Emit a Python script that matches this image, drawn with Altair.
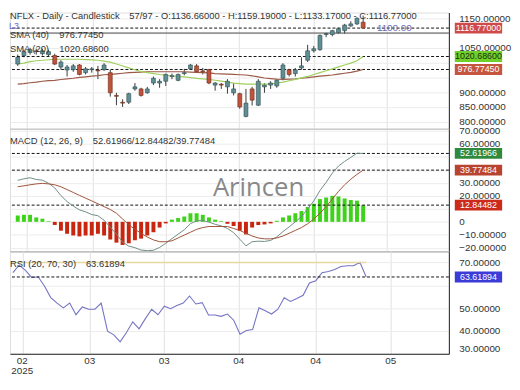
import altair as alt
import pandas as pd

# ---------------- data ----------------
opens = [995, 1024, 1034, 1040, 1030, 1027, 1024, 985, 975, 976,
         992, 966, 976, 975, 976, 966, 889, 866, 866, 911,
         911, 898, 931, 931, 937, 953, 940, 963, 979, 989,
         972, 976, 924, 927, 918, 898, 895, 818, 911, 856,
         918, 924, 921, 947, 976, 963, 982, 1008, 1040, 1044,
         1095, 1095, 1101, 1108, 1124, 1131, 1136.66]
highs = [1027, 1044, 1050, 1047, 1047, 1044, 1030, 1008, 992, 995,
         995, 985, 985, 989, 998, 976, 898, 876, 898, 931,
         915, 918, 953, 944, 963, 963, 963, 979, 995, 995,
         982, 979, 934, 931, 944, 931, 898, 911, 918, 944,
         931, 937, 944, 998, 979, 982, 1018, 1060, 1056, 1095,
         1101, 1111, 1118, 1131, 1140, 1153, 1159.19]
lows = [989, 1018, 1027, 1027, 1024, 1020, 992, 976, 953, 969,
        957, 960, 966, 944, 972, 885, 856, 850, 860, 905,
        885, 895, 924, 915, 921, 944, 937, 957, 976, 966,
        960, 927, 905, 911, 895, 889, 844, 815, 855, 853,
        898, 911, 915, 940, 953, 953, 976, 1002, 1034, 1040,
        1086, 1089, 1098, 1098, 1121, 1127, 1133.17]
closes = [1018, 1037, 1044, 1037, 1040, 1037, 995, 1002, 985, 989,
          960, 979, 979, 972, 992, 898, 886, 863, 895, 918,
          889, 911, 947, 937, 960, 956, 960, 966, 992, 969,
          969, 931, 931, 924, 937, 911, 850, 863, 873, 937,
          924, 931, 940, 992, 960, 976, 989, 1040, 1047, 1092,
          1098, 1108, 1115, 1127, 1131, 1150, 1116.77]
sma20 = [995.2, 998.4, 1003.2, 1006.4, 1008.1, 1009.7, 1011.3, 1011.3, 1011.3, 1011.3,
         1011.3, 1010.3, 1009.3, 1008.1, 1004.8, 1001.6, 995.2, 988.7, 982.3, 975.8,
         969.3, 966.1, 962.9, 959.7, 957.1, 954.8, 953.2, 951.6, 949.3, 946.8,
         945.1, 943.5, 940.3, 937.1, 933.9, 930.6, 929.0, 927.4, 927.4, 927.4,
         927.4, 927.4, 930.6, 933.9, 938.7, 943.5, 948.4, 953.2, 959.7, 966.1,
         972.6, 979.0, 985.5, 991.9, 998.4, 1006.4, 1020.686]
sma40 = [927, 929, 932, 934, 937, 939, 940, 943, 945, 947,
         950, 952, 954, 956, 959, 960, 962, 964, 966, 967,
         968, 969, 969, 969, 969, 969, 969, 969, 968, 967,
         966, 965, 963, 962, 961, 960, 959, 958, 955, 952,
         948, 946, 944, 943, 944, 945, 947, 949, 952, 954,
         956, 958, 961, 964, 967, 971, 976.7745]
macd_line = [31.9, 33.1, 33.9, 32.6, 32.0, 29.7, 26.1, 20.2, 15.6, 12.1,
             9.2, 7.7, 5.6, 4.7, 1.2, -4.1, -9.4, -15.6, -18.7, -19.9,
             -21.7, -22.2, -21.9, -19.7, -16.5, -12.9, -9.5, -6.1, -1.4, 0.8,
             1.0, -0.2, -1.9, -3.1, -5.1, -8.3, -13.4, -18.5, -15.3, -14.9,
             -15.1, -14.3, -11.6, -7.5, -3.9, 0.0, 3.9, 9.9, 16.1, 24.1,
             30.4, 37.5, 42.9, 46.5, 49.6, 52.8, 52.61966]
macd_signal = [27.0, 27.7, 28.5, 29.2, 29.6, 29.2, 28.5, 27.0, 24.8, 22.6,
               20.4, 18.2, 16.1, 13.9, 11.7, 9.5, 6.6, 2.2, -2.2, -5.8,
               -8.8, -11.7, -13.9, -15.3, -15.3, -14.6, -12.4, -10.2, -8.0, -5.8,
               -4.4, -3.6, -3.6, -3.6, -3.6, -5.1, -6.6, -8.8, -10.9, -12.4,
               -13.1, -13.1, -12.4, -10.9, -8.8, -6.6, -4.4, -1.5, 2.2, 6.6,
               11.7, 17.5, 23.4, 28.5, 32.8, 36.5, 39.77484]
macd_hist = [4.9, 5.4, 5.4, 3.4, 2.4, 0.5, -2.4, -6.8, -9.2, -10.5,
             -11.2, -10.5, -10.5, -9.2, -10.5, -13.6, -16.0, -17.8, -16.5, -14.1,
             -12.9, -10.5, -8.0, -4.4, -1.2, 1.7, 2.9, 4.1, 6.6, 6.6,
             5.4, 3.4, 1.7, 0.5, -1.5, -3.2, -6.8, -9.7, -4.4, -2.5,
             -2.0, -1.2, 0.8, 3.4, 4.9, 6.6, 8.3, 11.4, 13.9, 17.5,
             18.7, 20.0, 19.5, 18.0, 16.8, 16.3, 12.84482]
rsi = [65.5, 68.8, 66.5, 63.3, 63.7, 59.7, 54.6, 52.2, 50.1, 52.2,
       47.1, 50.5, 49.5, 49.5, 52.2, 39.9, 38.3, 35.2, 39.3, 44.0,
       40.9, 45.4, 49.5, 47.1, 50.8, 49.7, 51.1, 52.2, 55.3, 51.8,
       52.4, 47.0, 47.0, 46.4, 47.4, 44.7, 38.6, 40.2, 40.6, 50.1,
       48.8, 47.4, 49.5, 54.5, 52.9, 54.2, 55.6, 61.0, 62.0, 65.5,
       66.0, 66.9, 68.2, 68.5, 68.5, 70.1, 63.61894]

x_tick_pos = [1.5, 12.2, 24.0, 35.8, 48.0, 59.9]
x_tick_labels = ["02", "03", "03", "04", "04", "05"]
x_year_label = "2025"
price_ticks = [800, 850, 900, 950, 1000, 1050, 1100, 1150]
price_hidden_labels = [950, 1000, 1100]
macd_ticks = [-20, -10, 0, 10, 20, 30, 40, 50, 60, 70]
macd_hidden_labels = [10, 40, 50]
rsi_ticks = [30, 40, 50, 60, 70]
rsi_hidden_labels = [60]
level_l3 = 1100.0
rsi_upper = 70
total_bars = 97

symbol_title = "NFLX - Daily - Candlestick"
sma40_title = "SMA (40)"
sma20_title = "SMA (20)"
macd_title = "MACD (12, 26, 9)"
rsi_title = "RSI (20, 70, 30)"
watermark = "Arincen"

# ---------------- layout ----------------
FONT = "Liberation Sans"
W = 445
H_PRICE, H_MACD, H_RSI = 118, 124, 104
X_DOMAIN = [-0.46, 69.1]
PRICE_DOMAIN = [775.8, 1169.4]
MACD_DOMAIN = [-22.6, 71.5]
RSI_DOMAIN = [30.0, 74.9]

UP_FILL, UP_STROKE = "#5f8f95", "#2e4a4d"
DN_FILL, DN_STROKE = "#c0533b", "#6b2a1c"

n = len(closes)
df = pd.DataFrame({
    "i": list(range(n)), "o": opens, "h": highs, "l": lows, "c": closes,
    "sma20": sma20, "sma40": sma40,
    "macd": macd_line, "signal": macd_signal, "hist": macd_hist, "rsi": rsi,
})
df["dir"] = ["up" if c >= o else "down" for o, c in zip(opens, closes)]
df["hdir"] = ["pos" if h >= 0 else "neg" for h in macd_hist]

one = pd.DataFrame({"k": [0]})

X_SCALE = alt.Scale(domain=X_DOMAIN, nice=False, zero=False)
X_AXIS = alt.Axis(values=x_tick_pos, labels=False, grid=True, gridColor="#e2e2e2",
                  ticks=False, domain=True, domainColor="#222222", domainWidth=1,
                  title=None, zindex=0)


def X(field):
    return alt.X(field, scale=X_SCALE, axis=X_AXIS)


def make_y(domain, values, hidden=(), zero_plain=False):
    hid = "[" + ", ".join(str(v) for v in hidden) + "]"
    base = "format(datum.value, '.5f')"
    if zero_plain:
        base = f"datum.value == 0 ? '0' : {base}"
    expr = f"indexof({hid}, datum.value) >= 0 ? '' : ({base})"
    axis = alt.Axis(orient="right", values=values, grid=True, gridColor="#ececec", ticks=False,
                    domainColor="#222222", labelFontSize=10, labelColor="#333333", labelPadding=10,
                    labelFlush=True, labelOverlap=False, title=None, labelExpr=expr, zindex=0)
    scale = alt.Scale(domain=domain, nice=False, zero=False)

    def Y(field):
        return alt.Y(field, scale=scale, axis=axis)
    return Y


def text_at(txt, x, y, size=9.5, color="#333333", align="left", font=FONT, **kw):
    return alt.Chart(one).mark_text(align=align, baseline="middle", fontSize=size,
                                    color=color, font=font, **kw).encode(
        x=alt.value(x), y=alt.value(y), text=alt.value(txt))


def hlines(Y, values, dash=True, color="#111111"):
    d = pd.DataFrame({"v": values})
    if dash:
        m = alt.Chart(d).mark_rule(color=color, strokeWidth=1, strokeDash=[3, 2])
    else:
        m = alt.Chart(d).mark_rule(color=color, strokeWidth=1)
    return m.encode(y=Y("v:Q"))


def tag_layers(Y, values, bgs, fgs):
    d = pd.DataFrame({"v": values, "label": [f"{v:.5f}" for v in values],
                      "bg": bgs, "fg": fgs})
    box = alt.Chart(d).mark_tick(orient="horizontal", size=48, thickness=11, opacity=1).encode(
        x=alt.value(W + 30), y=Y("v:Q"), color=alt.Color("bg:N", scale=None))
    txt = alt.Chart(d).mark_text(fontSize=9, font=FONT, align="center", baseline="middle").encode(
        x=alt.value(W + 30), y=Y("v:Q"), text="label:N", color=alt.Color("fg:N", scale=None))
    return [box, txt]


# ---------------- price panel ----------------
YP = make_y(PRICE_DOMAIN, price_ticks, price_hidden_labels)
wicks = alt.Chart(df).mark_rule(color="#3a3a3a", strokeWidth=1).encode(
    x=X("i:Q"), y=YP("l:Q"), y2="h:Q")
bodies = alt.Chart(df).mark_bar(size=4, strokeWidth=0.6).encode(
    x=X("i:Q"), y=YP("o:Q"), y2="c:Q",
    color=alt.Color("dir:N", scale=alt.Scale(domain=["up", "down"], range=[UP_FILL, DN_FILL]), legend=None),
    stroke=alt.Stroke("dir:N", scale=alt.Scale(domain=["up", "down"], range=[UP_STROKE, DN_STROKE]), legend=None))
l20 = alt.Chart(df).mark_line(color="#9fd05f", strokeWidth=1.2).encode(x=X("i:Q"), y=YP("sma20:Q"))
l40 = alt.Chart(df).mark_line(color="#9c5a48", strokeWidth=1.2).encode(x=X("i:Q"), y=YP("sma40:Q"))
l3_line = hlines(YP, [level_l3], dash=False, color="#4a4a4a")
l3_text = alt.Chart(pd.DataFrame({"v": [level_l3]})).mark_text(
    align="left", baseline="middle", dy=-5, fontSize=10, color="#6a6ab8", font=FONT).encode(
    x=alt.value(372), y=YP("v:Q"), text=alt.value(f"{level_l3:.2f}"))
price_dash = hlines(YP, [closes[-1], sma20[-1], sma40[-1]])
price_tags = tag_layers(YP, [closes[-1], sma20[-1], sma40[-1]],
                        ["#d04a4a", "#6fd02a", "#c4553f"], ["#ffffff", "#1d2d10", "#ffffff"])
hdr = f"{n}/{total_bars} - O:{opens[-1]:.5f} - H:{highs[-1]:.5f} - L:{lows[-1]:.5f} - C:{closes[-1]:.5f}"
price = alt.layer(
    wicks, price_dash, l3_line, l40, l20, bodies,
    text_at(symbol_title, 0, 4), text_at(hdr, 121, 4),
    text_at("L3", -1, 13.5, size=9, color="#6a6ad8"),
    text_at(sma40_title, 0, 22.5), text_at(f"{sma40[-1]:.5f}", 50, 22.5),
    text_at(sma20_title, 0, 37.5), text_at(f"{sma20[-1]:.5f}", 50, 37.5),
    l3_text, *price_tags,
).properties(width=W, height=H_PRICE)

# ---------------- MACD panel ----------------
YM = make_y(MACD_DOMAIN, macd_ticks, macd_hidden_labels, zero_plain=True)
hist = alt.Chart(df).mark_bar(size=4).encode(
    x=X("i:Q"), y=YM("hist:Q"),
    color=alt.Color("hdir:N", scale=alt.Scale(domain=["pos", "neg"], range=["#3fd21a", "#c8260f"]), legend=None))
wm = text_at(watermark, 252, 60, size=26, color="#7c7c7c", align="center", font="Open Sans", opacity=0.9)
m_line = alt.Chart(df).mark_line(color="#6f8c86", strokeWidth=1).encode(x=X("i:Q"), y=YM("macd:Q"))
s_line = alt.Chart(df).mark_line(color="#a0523a", strokeWidth=1).encode(x=X("i:Q"), y=YM("signal:Q"))
macd_vals = [macd_line[-1], macd_signal[-1], macd_hist[-1]]
macd_dash = hlines(YM, macd_vals)
macd_tags = tag_layers(YM, macd_vals, ["#2f8a3e", "#b8432e", "#cc2a1a"], ["#ffffff", "#ffffff", "#ffffff"])
macd_hdr = f"{macd_line[-1]:.5f}/{macd_hist[-1]:.5f}/{macd_signal[-1]:.5f}"
macd = alt.layer(
    hist, wm, macd_dash, m_line, s_line,
    text_at(macd_title, 0, 12), text_at(macd_hdr, 84, 12),
    *macd_tags,
).properties(width=W, height=H_MACD)

# ---------------- RSI panel ----------------
YR = make_y(RSI_DOMAIN, rsi_ticks, rsi_hidden_labels)
rsi_l = alt.Chart(df).mark_line(color="#7474c4", strokeWidth=1.1).encode(x=X("i:Q"), y=YR("rsi:Q"))
upper_df = pd.DataFrame({"x0": [X_DOMAIN[0]], "x1": [n - 1], "v": [rsi_upper]})
upper = alt.Chart(upper_df).mark_rule(color="#e6d9a2", strokeWidth=1.5).encode(
    x=X("x0:Q"), x2="x1:Q", y=YR("v:Q"))
rsi_dash = hlines(YR, [rsi[-1]])
rsi_tags = tag_layers(YR, [rsi[-1]], ["#3b3bd8"], ["#ffffff"])
xlab_df = pd.DataFrame({"x": x_tick_pos, "t": x_tick_labels})
x_labels = alt.Chart(xlab_df).mark_text(fontSize=10, font=FONT, color="#333333",
                                        baseline="top", align="center").encode(
    x=X("x:Q"), y=alt.value(H_RSI + 2), text="t:N")
year_df = pd.DataFrame({"x": [x_tick_pos[0]], "t": [x_year_label]})
year_text = alt.Chart(year_df).mark_text(fontSize=10, font=FONT, color="#333333",
                                         baseline="top", align="center").encode(
    x=X("x:Q"), y=alt.value(H_RSI + 13), text="t:N")
rsi_panel = alt.layer(
    rsi_l, upper, rsi_dash,
    text_at(rsi_title, 0, 13), text_at(f"{rsi[-1]:.5f}", 77, 13),
    x_labels, year_text, *rsi_tags,
).properties(width=W, height=H_RSI)

chart = alt.vconcat(price, macd, rsi_panel, spacing=0, bounds="flush").resolve_scale(
    color="independent", stroke="independent"
).properties(
    padding={"left": 0, "top": 0, "right": 0, "bottom": 0}
).configure_view(stroke=None).configure_axis(labelOverlap=False).configure(font=FONT)

chart.save("out.html", embed_options={"renderer": "svg", "actions": False})
